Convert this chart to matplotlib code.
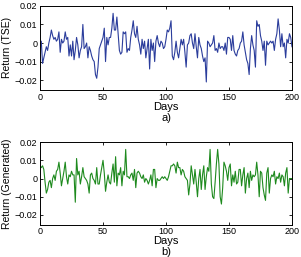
import numpy as np
import matplotlib
matplotlib.use("Agg")
import matplotlib.pyplot as plt

days = np.arange(201)

# daily returns
tse_returns = [
    0.000, 0.001, -0.011, -0.008, -0.005, -0.002, -0.004, 0.000, 0.003, 0.007,
    0.004, 0.002, 0.003, 0.001, 0.002, 0.006, -0.005, 0.002, 0.000, 0.001,
    0.006, 0.002, 0.003, -0.007, -0.001, -0.007, 0.001, -0.009, -0.004, 0.003,
    -0.001, -0.008, -0.004, -0.002, 0.010, -0.003, -0.002, 0.000, -0.008, -0.002,
    -0.004, -0.007, -0.009, -0.010, -0.017, -0.019, -0.013, -0.003, -0.001, 0.001,
    0.003, 0.008, -0.010, 0.003, -0.001, 0.003, 0.003, 0.008, 0.016, 0.007,
    0.007, 0.014, 0.005, -0.004, -0.006, -0.005, 0.006, 0.005, 0.006, -0.005,
    -0.003, -0.004, 0.003, 0.007, 0.012, 0.005, 0.003, 0.009, 0.002, -0.001,
    -0.006, 0.002, -0.003, 0.001, -0.008, -0.003, 0.002, -0.014, 0.002, -0.004,
    0.000, -0.010, 0.001, 0.004, 0.000, -0.002, 0.001, 0.000, -0.003, -0.002,
    0.002, 0.007, 0.006, 0.008, 0.012, -0.007, -0.009, -0.005, 0.001, -0.005,
    -0.008, -0.003, 0.002, -0.001, 0.002, -0.005, -0.013, -0.001, 0.000, 0.004,
    0.005, 0.000, -0.003, 0.005, -0.002, -0.008, 0.003, -0.001, -0.003, -0.007,
    -0.010, -0.008, -0.021, 0.001, 0.000, -0.002, -0.001, 0.000, 0.004, -0.004,
    -0.003, -0.005, 0.000, -0.003, -0.002, -0.002, -0.004, 0.000, -0.006, 0.003,
    0.003, 0.002, -0.004, 0.004, -0.004, -0.006, -0.007, -0.004, -0.003, 0.000,
    0.001, 0.006, -0.001, -0.005, -0.009, -0.011, -0.017, -0.003, 0.004, -0.001,
    -0.004, -0.013, 0.012, 0.009, 0.010, 0.004, 0.001, -0.004, 0.001, -0.012,
    0.001, -0.001, 0.000, 0.001, 0.000, 0.001, -0.004, 0.002, 0.005, 0.013,
    0.007, -0.002, 0.005, -0.002, 0.000, -0.008, 0.002, 0.000, 0.005, 0.003,
    -0.002,
]

# daily returns
gen_returns = [
    0.007, 0.006, 0.007, 0.005, -0.002, -0.008, -0.006, -0.002, -0.001, -0.005,
    0.000, 0.002, -0.001, 0.004, 0.005, 0.009, 0.003, -0.004, 0.000, 0.004,
    0.009, 0.001, -0.003, 0.002, 0.001, 0.004, 0.002, 0.002, -0.013, 0.011,
    0.002, 0.004, -0.003, 0.001, 0.006, 0.001, 0.000, -0.001, -0.003, -0.008,
    0.002, 0.003, 0.000, -0.001, -0.003, 0.006, -0.003, -0.003, 0.002, 0.006,
    0.010, 0.003, -0.007, -0.002, 0.002, -0.002, -0.003, 0.003, 0.008, -0.002,
    0.012, -0.004, 0.003, 0.002, 0.006, -0.004, 0.004, 0.002, 0.016, 0.001,
    0.001, 0.000, 0.002, 0.003, -0.001, 0.005, -0.005, 0.003, 0.004, 0.003,
    0.001, 0.000, 0.002, -0.002, 0.000, -0.001, -0.003, -0.001, 0.002, -0.004,
    0.005, 0.005, -0.005, 0.000, -0.001, -0.001, 0.000, 0.001, 0.000, 0.001,
    0.000, -0.001, 0.001, 0.004, 0.007, 0.007, 0.008, 0.007, 0.003, 0.009,
    0.006, 0.006, 0.002, 0.005, 0.004, 0.001, 0.000, -0.001, -0.009, -0.003,
    0.007, 0.002, -0.003, 0.005, -0.002, -0.010, 0.000, 0.005, -0.006, 0.002,
    0.007, -0.006, 0.001, 0.006, 0.004, 0.016, -0.003, -0.010, -0.011, -0.002,
    0.008, 0.016, 0.008, -0.010, -0.014, -0.005, 0.009, 0.007, 0.004, -0.001,
    0.006, 0.008, -0.004, 0.002, -0.002, 0.004, -0.003, -0.002, 0.005, 0.005,
    -0.004, 0.002, 0.006, -0.008, 0.000, 0.003, -0.005, 0.004, -0.001, 0.002,
    0.001, 0.002, 0.009, 0.002, -0.010, 0.004, 0.003, -0.005, -0.009, -0.012,
    0.003, 0.006, -0.008, 0.000, 0.002, 0.001, 0.004, -0.003, 0.001, 0.000,
    0.003, -0.002, 0.002, 0.001, -0.004, 0.003, 0.006, -0.008, 0.000, 0.000,
    0.000,
]

yticks = [-0.02, -0.01, 0, 0.01, 0.02]
yticklabels = ['\u22120.02', '\u22120.01', '0', '0.01', '0.02']
xticks = [0, 50, 100, 150, 200]

plt.rcParams['font.family'] = ['Liberation Sans', 'DejaVu Sans']

fig = plt.figure(figsize=(3.01, 2.57), dpi=100)
ax1 = fig.add_axes([0.133, 0.650, 0.837, 0.327])
ax2 = fig.add_axes([0.133, 0.126, 0.837, 0.321])


def style(ax, ylabel, caption):
    ax.set_xlim(0, 200)
    ax.set_ylim(-0.0253, 0.02)
    ax.set_xticks(xticks)
    ax.set_yticks(yticks)
    ax.set_yticklabels(yticklabels)
    ax.tick_params(direction='in', top=True, right=True, length=2.5,
                   width=0.6, labelsize=6.5, pad=2)
    for s in ax.spines.values():
        s.set_linewidth(0.7)
    ax.set_ylabel(ylabel, fontsize=7.5, labelpad=2)
    ax.set_xlabel('Days', fontsize=8, labelpad=0)
    ax.text(0.5, -0.33, caption, transform=ax.transAxes, ha='center',
            va='center', fontsize=8)


# (a) observed TSE returns
ax1.plot(days, tse_returns, color='#2b3d9c', linewidth=0.8)
style(ax1, 'Return (TSE)', 'a)')

# (b) generated returns
ax2.plot(days, gen_returns, color='#1e8a1e', linewidth=0.8)
style(ax2, 'Return (Generated)', 'b)')

fig.savefig('out.png', dpi=100)
